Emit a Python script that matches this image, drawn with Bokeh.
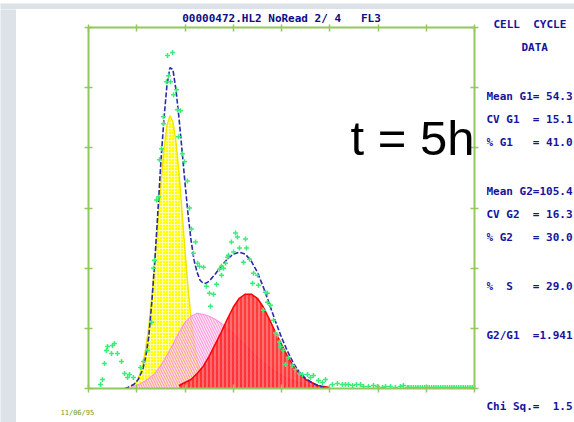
from bokeh.plotting import figure
from bokeh.layouts import row, column
from bokeh.models import Range1d, LinearAxis, FixedTicker, Label, Title
from bokeh.core.properties import value
from bokeh.embed import file_html
from bokeh.resources import INLINE

# ---------------- data (channel, counts) ----------------
g1_ch = [28, 30, 32, 34, 36, 38, 40, 42, 44, 46, 48, 50, 52, 54, 56, 58, 60,
         62, 64, 66, 68, 70, 72, 74, 76, 78, 80, 82]
g1_counts = [2, 4, 7, 14, 24, 40, 62, 91, 126, 165, 204, 238, 262, 272, 266,
             246, 215, 177, 137, 101, 70, 46, 28, 16, 9, 5, 2, 1]

s_ch = [28, 32, 36, 40, 44, 48, 52, 56, 60, 64, 68, 72, 76, 80, 84, 88, 92,
        96, 100, 104, 108, 112, 116, 120, 124, 128, 132, 136, 140, 144, 148,
        152, 156, 160]
s_counts = [2, 3, 6, 10, 15, 23, 33, 44, 56, 66, 72, 75, 74, 72, 69, 65, 60,
            55, 49, 43, 37, 31, 26, 21, 17, 13, 10, 8, 6, 4, 3, 2, 1, 1]

g2_ch = [60, 64, 68, 72, 76, 80, 84, 88, 92, 96, 100, 104, 108, 112, 116, 120,
         124, 128, 132, 136, 140, 144, 148, 152, 156, 160]
g2_counts = [3, 6, 9, 15, 22, 32, 44, 56, 69, 81, 90, 94, 94, 90, 81, 69, 56,
             44, 32, 22, 15, 9, 6, 3, 2, 1]

fit_ch = [24, 26, 30, 33, 36, 38, 40, 42, 44, 46, 48, 50, 52, 54, 56, 58, 60,
          62, 64, 66, 68, 70, 72, 74, 76, 78, 80, 84, 88, 92, 96, 100, 104,
          108, 112, 116, 120, 124, 128, 132, 136, 140, 144, 148, 152, 156, 160]
fit_counts = [0, 1, 4, 9, 19, 32, 52, 86, 128, 176, 226, 268, 302, 320, 318,
              298, 270, 238, 205, 174, 148, 128, 116, 108, 105, 105, 107, 114,
              122, 129, 134, 136, 134, 127, 116, 101, 84, 67, 51, 37, 25, 16,
              10, 6, 3, 1, 0]

pts_ch = [55.7, 52.4, 53.1, 51.7, 54.4, 58.4, 56.4, 59.0, 61.0, 49.7,
          49.7, 59.7, 48.4, 62.3, 47.1, 63.7, 65.6, 46.4, 45.1, 67.0,
          68.3, 71.0, 69.6, 43.8, 43.1, 73.6, 76.3, 72.3, 92.2, 90.9,
          89.5, 86.9, 78.2, 84.9, 80.2, 82.9, 80.9, 17.2, 15.9, 12.6,
          11.9, 15.3, 19.2, 21.9, 10.6, 23.9, 27.2, 29.8, 25.9, 9.3,
          8.0, 34.5, 36.5, 39.1, 41.8, 97.5, 98.8, 104.1, 94.8, 100.1,
          104.8, 96.2, 106.8, 92.8, 102.8, 88.2, 88.2, 109.4, 112.1, 108.8,
          112.7, 117.4, 118.7, 116.0, 120.7, 118.7, 122.7, 124.0, 125.3, 126.7,
          127.3, 129.3, 132.6, 130.6, 135.3, 137.3, 139.9, 141.9, 145.2, 147.2,
          149.2, 152.5, 155.2, 157.2, 161.8, 165.1, 168.4, 170.4, 172.4, 175.1,
          177.7, 180.4, 182.4, 185.7, 189.0, 191.6, 195.0, 197.0, 200.3, 203.6,
          206.9, 208.9, 211.5, 212.5, 214, 215.5, 217, 218.5, 220, 221.5,
          223, 224.5, 226, 227.5, 229, 230.5, 232, 233.5, 235, 236.5,
          238, 239.5, 241, 242.5, 244, 245.5, 247, 248.5, 250, 251.5,
          253, 254.5]
pts_counts = [335, 332, 312, 306, 306, 298, 293, 278, 277, 271,
              264, 251, 239, 234, 228, 226, 207, 191, 188, 180,
              159, 146, 135, 128, 120, 122, 121, 125, 131, 125,
              120, 119, 102, 104, 95, 94, 82, 45, 43, 42,
              38, 35, 35, 27, 25, 15, 14, 11, 11, 9,
              4, 21, 27, 38, 66, 155, 151, 149, 146, 140,
              140, 136, 129, 133, 126, 122, 113, 115, 113, 105,
              103, 96, 95, 78, 83, 86, 68, 55, 53, 46,
              42, 38, 31, 24, 23, 19, 15, 14, 14, 11,
              13, 8, 6, 9, 4, 5, 4, 4, 4, 3,
              4, 4, 2, 2, 3, 2, 1, 2, 2, 1,
              2, 3, 1, 1, 1, 1, 1, 1, 1, 1,
              1, 1, 1, 1, 1, 1, 1, 1, 1, 1,
              1, 1, 1, 1, 1, 1, 1, 1, 1, 1,
              1, 1]

x_ticks = [0, 32, 64, 96, 128, 160, 192, 224, 256]
y_ticks = [0, 60, 120, 180, 240, 300, 360]

title_text = "00000472.HL2 NoRead 2/ 4\u00a0\u00a0\u00a0FL3"
panel_texts = ["CELL\u00a0\u00a0CYCLE", "DATA",
               "Mean G1= 54.3", "CV G1\u00a0\u00a0= 15.1",
               "%\u00a0G1\u00a0\u00a0\u00a0= 41.0",
               "Mean G2=105.4", "CV G2\u00a0\u00a0= 16.3",
               "%\u00a0G2\u00a0\u00a0\u00a0= 30.0",
               "%\u00a0\u00a0S\u00a0\u00a0\u00a0= 29.0",
               "G2/G1\u00a0\u00a0=1.941", "Chi Sq.=\u00a0\u00a01.5"]
date_text = "11/06/95"

mono = "DejaVu Sans Mono"
navy = "#14149c"
frame_green = "#93c85e"
gray_bg = "#dce2e7"


def strip(w, h):
    s = figure(width=w, height=h, min_border=0, x_axis_type=None,
               y_axis_type=None, output_backend="svg", toolbar_location=None,
               background_fill_color=gray_bg, border_fill_color=gray_bg)
    s.outline_line_color = None
    s.grid.visible = False
    s.frame_align = False
    return s


# ---------------- slide background strips ----------------
p_top = strip(574, 9)
p_left = strip(16, 413)

# ---------------- main histogram ----------------
p = figure(x_range=Range1d(0, 256), y_range=Range1d(0, 360),
           frame_width=386, frame_height=361,
           min_border_left=72, min_border_right=12,
           min_border_top=18, min_border_bottom=34,
           output_backend="svg", toolbar_location=None,
           background_fill_color="white", border_fill_color="white")
p.frame_align = False
p.outline_line_color = None
p.grid.visible = False
p.add_layout(LinearAxis(), "above")
p.add_layout(LinearAxis(), "right")

p.xaxis.ticker = FixedTicker(ticks=x_ticks)
p.yaxis.ticker = FixedTicker(ticks=y_ticks)
p.xaxis.major_label_overrides = {t: "" for t in x_ticks}
p.yaxis.major_label_overrides = {t: "" for t in y_ticks}
for ax in p.axis:
    ax.axis_line_color = frame_green
    ax.axis_line_width = 2
    ax.major_tick_line_color = frame_green
    ax.major_tick_line_width = 1.5
    ax.major_tick_in = 4
    ax.major_tick_out = 4
    ax.minor_tick_line_color = None
    ax.major_label_text_font_size = "0px"
    ax.major_label_standoff = 0
p.above[0].major_tick_out = 3

p.title.text = title_text
p.title.align = "center"
p.title.text_font = mono
p.title.text_font_style = "bold"
p.title.text_font_size = "11px"
p.title.text_color = "#0c0c88"
p.title.standoff = 0

p.add_layout(Title(text=date_text, align="left", offset=-28, standoff=29,
                   text_font=mono, text_font_style="normal",
                   text_font_size="7px", text_color="#6f9a2a"), "below")

# G1 (yellow)
p.varea(x=g1_ch, y1=0, y2=g1_counts, fill_color="#ffff00", fill_alpha=1.0,
        hatch_pattern="cross", hatch_color="#ffffb8", hatch_alpha=0.9,
        hatch_scale=3, hatch_weight=1)
p.line(g1_ch, g1_counts, line_color="#f2e600", line_width=1.5)

# S phase (pink)
p.varea(x=s_ch, y1=0, y2=s_counts, fill_color="#ffd6f0", fill_alpha=0.6,
        hatch_pattern="left_diagonal_line", hatch_color="#ff70cc",
        hatch_alpha=0.75, hatch_scale=5, hatch_weight=1)
p.line(s_ch, s_counts, line_color="#ff99dd", line_width=1.2)

# G2 (red)
p.varea(x=g2_ch, y1=0, y2=g2_counts, fill_color="#ff1a1a", fill_alpha=0.85,
        hatch_pattern="vertical_line", hatch_color="#ffc0c0",
        hatch_alpha=0.8, hatch_scale=4, hatch_weight=1)
p.line(g2_ch, g2_counts, line_color="#ff0000", line_width=1.5)

# fitted envelope
p.line(fit_ch, fit_counts, line_color="#2b2ba8", line_width=1.6,
       line_dash="5 2")

# data points
p.scatter(pts_ch, pts_counts, marker="cross", size=5,
          line_color="#38ee78", line_width=1.5)

p.add_layout(Label(x=(350 - 88) / (386 / 256), y=(388 - 137) * 360 / 361,
                   text="t = 5h", text_font="Liberation Sans",
                   text_font_size="49px", text_color="black",
                   text_align="left", text_baseline="alphabetic"))

# ---------------- right text panel ----------------
p_text = figure(width=88, height=413, min_border=0,
                x_range=Range1d(486, 574), y_range=Range1d(422, 9),
                x_axis_type=None, y_axis_type=None, output_backend="svg",
                toolbar_location=None, background_fill_color="white",
                border_fill_color="white")
p_text.frame_align = False
p_text.outline_line_color = None
p_text.grid.visible = False
text_x = [493, 521, 486, 486, 486, 486, 486, 486, 486, 486, 486]
text_y = [24, 47, 96, 119, 142, 191, 214, 237, 286, 335, 406]
p_text.text(x=text_x, y=text_y, text=panel_texts, text_font=value(mono),
            text_font_style="bold", text_font_size=value("11px"),
            text_color=navy, text_align="left", text_baseline="middle")

layout = column(p_top, row(p_left, p, p_text))
open("out.html", "w").write(file_html(layout, INLINE))
